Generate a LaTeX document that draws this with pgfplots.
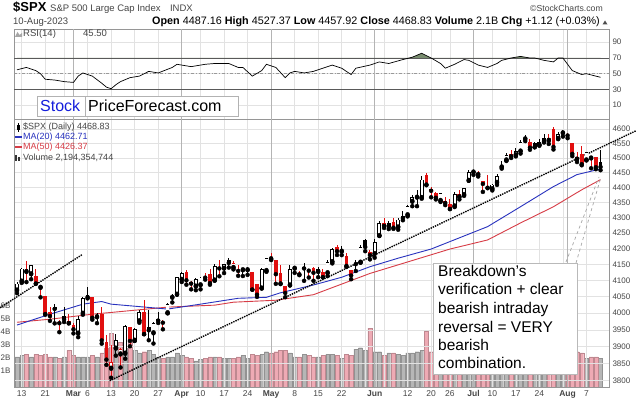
\documentclass[border=0pt]{standalone}
\usepackage{pgfplots}
\pgfplotsset{compat=1.18}
\usepackage{pgfplotstable}
\usepackage{fontspec}
\setmainfont{Liberation Sans}
\definecolor{cred}{RGB}{225,15,15}
\definecolor{mablue}{RGB}{40,50,190}
\definecolor{mared}{RGB}{215,60,70}
\definecolor{vpink}{RGB}{238,170,180}
\definecolor{vgray}{RGB}{182,182,182}
\definecolor{gridc}{RGB}{226,226,226}
\definecolor{gridm}{RGB}{180,180,180}
\definecolor{framec}{RGB}{150,150,150}
\definecolor{lbl}{RGB}{70,70,70}
\definecolor{stockblue}{RGB}{20,30,220}
\definecolor{obfill}{RGB}{120,140,110}
\newcommand\fs[1]{\fontsize{#1}{#1}\selectfont}

\pgfplotstableread{
i o h l c t v
0 4068.92 4094.36 4060.79 4090.46 1 2.3
1 4096.62 4138.90 4092.67 4137.29 1 2.4
2 4126.70 4159.77 4095.01 4136.13 3 2.5
3 4119.50 4148.11 4103.98 4147.60 1 2.3
4 4114.75 4136.54 4089.49 4090.41 4 2.5
5 4077.39 4081.51 4047.95 4079.09 3 2.4
6 4052.35 4052.35 3995.19 3997.34 4 2.5
7 4001.83 4017.37 3976.90 3991.05 4 2.3
8 4018.60 4028.30 3969.19 4012.32 2 2.3
9 3973.24 3978.25 3943.08 3970.04 4 2.2
10 3992.36 4018.05 3973.55 3982.24 2 2.3
11 3977.19 3997.50 3968.98 3970.15 4 2.8
12 3963.34 3971.73 3939.05 3951.39 4 2.4
13 3938.68 3990.84 3928.16 3981.35 1 2.3
14 3998.02 4048.29 3995.17 4045.64 1 2.3
15 4055.15 4078.49 4044.61 4048.42 2 2.3
16 4048.26 4050.00 3980.31 3986.37 4 2.4
17 3987.55 4000.41 3969.76 3992.01 1 2.3
18 3998.66 4017.81 3908.70 3918.32 4 2.6
19 3912.77 3934.05 3846.32 3861.59 4 3.0
20 3835.12 3905.05 3808.86 3855.76 3 4.1
21 3894.01 3937.29 3873.63 3919.29 1 3.2
22 3876.74 3894.26 3838.24 3891.93 3 3.4
23 3878.93 3964.46 3864.11 3960.28 1 3.0
24 3958.69 3958.91 3901.27 3916.64 4 3.6
25 3917.47 3956.62 3916.89 3951.57 1 2.8
26 3975.89 4009.08 3971.19 4002.87 1 2.6
27 4002.04 4039.49 3936.17 3936.97 4 2.7
28 3959.21 4007.66 3919.05 3948.72 2 2.8
29 3939.21 3972.74 3909.16 3970.99 1 2.5
30 3982.93 4003.83 3970.49 3977.53 2 2.3
31 3974.13 3979.20 3951.53 3971.27 4 2.2
32 3999.53 4030.59 3999.53 4027.81 1 2.3
33 4046.74 4057.85 4032.10 4050.83 1 2.3
34 4056.18 4110.75 4056.18 4109.31 1 2.6
35 4102.20 4127.66 4095.31 4124.51 1 2.4
36 4128.03 4133.13 4086.87 4100.60 4 2.3
37 4094.50 4099.69 4072.56 4090.38 4 2.2
38 4081.15 4107.32 4069.84 4105.02 1 2.0
39 4085.20 4109.50 4072.55 4109.11 1 2.1
40 4110.29 4124.26 4102.61 4108.94 4 2.2
41 4121.72 4134.37 4086.94 4091.95 4 2.3
42 4100.04 4150.26 4099.40 4146.22 1 2.3
43 4140.11 4163.19 4113.20 4137.64 4 2.3
44 4137.17 4151.72 4123.18 4151.32 1 2.2
45 4164.26 4169.48 4140.36 4154.87 2 2.2
46 4139.33 4162.57 4134.49 4154.52 3 2.2
47 4130.48 4148.57 4114.57 4129.79 4 2.3
48 4132.14 4138.02 4113.86 4133.52 1 2.4
49 4132.07 4142.41 4117.77 4137.04 1 2.2
50 4126.43 4126.43 4071.38 4071.63 4 2.5
51 4087.78 4089.67 4049.35 4055.99 4 2.4
52 4075.29 4138.24 4075.29 4135.35 1 2.5
53 4129.63 4170.06 4127.18 4169.48 1 2.7
54 4166.79 4186.92 4164.12 4167.87 3 2.6
55 4164.10 4164.10 4089.72 4119.58 4 2.7
56 4122.25 4148.30 4088.86 4090.75 4 2.8
57 4082.61 4082.61 4048.28 4061.22 4 2.8
58 4084.73 4147.02 4084.73 4136.25 1 2.6
59 4136.98 4142.30 4123.81 4138.12 1 2.3
60 4124.25 4130.35 4116.65 4119.17 4 2.3
61 4143.74 4154.28 4098.92 4137.64 2 2.5
62 4132.24 4132.80 4109.29 4130.62 4 2.4
63 4138.54 4143.74 4099.12 4124.08 4 2.3
64 4126.65 4141.25 4110.27 4136.28 1 2.3
65 4127.95 4135.54 4109.86 4109.90 4 2.4
66 4122.85 4164.67 4113.62 4158.77 1 2.5
67 4157.68 4202.20 4153.50 4198.05 1 2.5
68 4204.15 4212.91 4180.20 4191.98 4 2.4
69 4190.78 4209.22 4179.68 4192.63 1 2.2
70 4176.80 4185.68 4142.54 4145.58 4 2.5
71 4132.96 4132.96 4103.98 4115.24 4 2.4
72 4155.71 4165.74 4129.73 4151.28 2 2.9
73 4156.16 4212.87 4156.16 4205.45 1 3.0
74 4226.71 4231.10 4192.18 4205.52 2 2.8
75 4190.74 4195.44 4166.15 4179.83 4 4.5
76 4183.03 4232.43 4171.64 4221.02 1 2.7
77 4241.01 4290.67 4241.01 4282.37 1 2.7
78 4282.99 4299.28 4266.82 4273.79 4 2.4
79 4271.34 4288.33 4263.09 4283.85 1 2.6
80 4285.47 4299.19 4263.96 4267.52 4 2.6
81 4268.69 4298.01 4261.07 4293.93 1 2.5
82 4304.88 4322.62 4291.70 4298.86 2 2.4
83 4308.32 4340.13 4304.37 4338.93 1 2.6
84 4352.61 4375.37 4337.66 4369.01 1 2.6
85 4366.29 4391.82 4337.85 4372.59 1 2.7
86 4365.33 4439.20 4362.60 4425.84 1 2.8
87 4440.95 4448.47 4407.44 4409.59 4 4.3
88 4396.11 4400.15 4367.19 4388.71 4 2.7
89 4380.01 4386.22 4360.14 4365.69 4 2.6
90 4355.40 4382.25 4351.82 4381.89 1 2.5
91 4354.17 4366.55 4341.34 4348.33 4 2.6
92 4344.84 4362.06 4328.08 4328.82 4 2.5
93 4337.36 4384.42 4335.00 4378.41 1 2.5
94 4367.48 4390.35 4360.22 4376.86 3 2.4
95 4374.94 4398.39 4371.97 4396.44 1 2.3
96 4422.44 4458.48 4422.44 4450.38 1 2.5
97 4450.48 4456.46 4442.29 4455.59 1 1.8
98 4442.04 4454.06 4436.61 4446.82 3 2.3
99 4422.62 4422.62 4385.05 4411.59 4 2.6
100 4404.54 4440.39 4397.40 4398.95 4 2.4
101 4394.23 4412.60 4389.92 4409.53 1 2.5
102 4415.55 4443.64 4408.46 4439.26 1 2.4
103 4467.69 4488.34 4463.23 4472.16 1 2.5
104 4491.50 4517.38 4489.36 4510.04 1 2.5
105 4514.61 4527.76 4499.56 4505.42 4 2.5
106 4508.86 4532.85 4504.90 4522.79 1 2.4
107 4521.78 4562.30 4514.59 4554.98 1 2.6
108 4563.87 4578.43 4557.48 4565.72 1 2.6
109 4554.38 4564.74 4527.56 4534.87 4 2.7
110 4550.16 4555.00 4535.79 4536.34 2 3.3
111 4543.39 4563.41 4541.29 4554.64 1 2.5
112 4555.19 4580.62 4552.42 4567.46 1 2.5
113 4558.96 4582.47 4547.58 4566.75 3 2.7
114 4598.26 4607.07 4528.56 4537.41 4 2.9
115 4565.75 4590.16 4564.01 4582.23 1 2.7
116 4584.82 4594.22 4573.14 4588.96 1 2.6
117 4578.83 4584.62 4567.53 4576.73 4 2.6
118 4550.93 4550.93 4505.75 4513.39 4 2.8
119 4494.27 4519.49 4485.54 4501.89 3 2.7
120 4513.96 4540.34 4474.55 4478.03 4 2.6
121 4491.58 4519.84 4491.15 4518.44 1 2.2
122 4498.03 4503.31 4464.39 4499.38 3 2.3
123 4501.57 4502.44 4461.33 4467.71 4 2.3
124 4487.16 4527.37 4457.92 4468.83 2 2.2
}\ohlc

\pgfplotstableread{
i r
0 55
2 58
4 54
5 50
6 43
8 42
10 40
12 39
13 47
14 51
16 47
18 38
19 33
20 31
21 36
22 40
24 45
26 47
27 50
28 53
30 51
33 58
34 62
37 59
40 62
42 63
45 63
47 58
48 58
50 47
52 54
53 62
55 58
57 45
58 51
59 53
61 51
63 53
65 57
67 61
69 57
71 49
72 57
75 61
77 65
79 63
82 68
84 71
86 76
88 70
90 63
91 57
93 62
95 68
96 67
98 61
100 58
102 63
103 67
105 70
107 72
109 70
110 70
112 67
114 65
115 70
116 70
118 54
120 49
121 50
123 47
124 45.5
}\rsi

\pgfplotstableread{
i m
0 3964
7 3997
14 4027
18 4035
20 4027
32 4012
39 4027
47 4045
53 4048
56 4062
63 4086
69 4110
75 4143
81 4170
88 4199
100 4271
107 4336
114 4403
119 4443
124 4462
}\mablue

\pgfplotstableread{
i m
0 3973
7 3982
16 3997
21 4003
32 4018
42 4024
46 4033
55 4039
63 4056
75 4122
92 4199
100 4228
107 4283
114 4336
120 4392
124 4426
}\mared

\pgfplotsset{
  chartx/.style={
    scale only axis, anchor=south west, width=595pt,
    xmin=-0.64, xmax=125.8,
    xtick={1,6,10,15,20,25,30,39,44,49,59,64,69,74,78,83,88,92,101,106,111,116,121},
    extra x ticks={12,35,54,76,97,117},
    xmajorgrids, major grid style={gridc, line width=0.5pt},
    extra x tick style={grid=major, major grid style={gridm, line width=0.6pt}},
    tick style={draw=none}, major tick length=0pt,
    axis line style={framec, line width=0.6pt},
  },
  wick/.style={only marks, mark=none, forget plot,
    error bars/.cd, y dir=plus, y explicit, error mark=none,
    error bar style={line width=0.9pt, draw=#1}},
  body/.style={only marks, mark=none, forget plot,
    error bars/.cd, y dir=plus, y explicit, error mark=none,
    error bar style={line width=3.8pt, draw=#1}},
  inner/.style={only marks, mark=none, forget plot,
    error bars/.cd, y dir=plus, y explicit, error mark=none,
    error bar style={line width=2.2pt, draw=white}},
}

\begin{document}
\begin{tikzpicture}
\useasboundingbox (0pt,0pt) rectangle (640pt,402pt);
\fill[white] (0pt,0pt) rectangle (640pt,402pt);

% ---------------- RSI panel
\begin{axis}[chartx, at={(14pt,283pt)}, height=90pt,
  ymin=-7.46, ymax=106.8,
  xticklabels={,,,,,,,,,,,,,,,,,,,,,,},
  extra x tick labels={,,,,,},
  xticklabel style={opacity=0},
  ytick={10,30,50,70,90}, yticklabels={10,30,50,70,90},
  yticklabel pos=right, ymajorgrids,
  yticklabel style={font=\fs{8}, text=lbl},
]
\addplot[gray!70!black, line width=0.7pt] coordinates {(-0.64,70) (125.8,70)};
\addplot[gray!70!black, line width=0.7pt] coordinates {(-0.64,30) (125.8,30)};
\addplot[gray!80, line width=0.7pt, dash dot] coordinates {(-0.64,50) (125.8,50)};
\end{axis}
% overbought fill (RSI above 70)
\begin{axis}[scale only axis, anchor=south west, width=595pt, at={(14pt,344pt)}, height=29pt,
  xmin=-0.64, xmax=125.8, ymin=70, ymax=106.8, axis lines=none]
\addplot[fill=obfill, draw=none] table[x=i,y=r]{\rsi} \closedcycle;
\end{axis}
\begin{axis}[scale only axis, anchor=south west, width=595pt, at={(14pt,283pt)}, height=90pt,
  xmin=-0.64, xmax=125.8, ymin=-7.46, ymax=106.8, axis lines=none]
\addplot[black, line width=0.7pt] table[x=i,y=r]{\rsi};
\end{axis}

% ---------------- Volume (overlay)
\begin{axis}[scale only axis, anchor=south west, width=595pt, at={(14pt,15pt)}, height=268pt,
  xmin=-0.64, xmax=125.8, ymin=0, ymax=20.46,
  xtick=\empty, ytick={1,2,3,4,5,6}, yticklabels={1B,2B,3B,4B,5B,6B},
  yticklabel style={font=\fs{8}, text=lbl, yshift=3pt},
  tick style={draw=none}, major tick length=0pt, axis line style={draw=none},
]
\addplot[ybar, bar width=3.9pt, bar shift=0pt, fill=vgray, draw=vgray!80!black, line width=0.2pt,
  restrict expr to domain={\thisrow{t}}{1:2}] table[x=i,y=v]{\ohlc};
\addplot[ybar, bar width=3.9pt, bar shift=0pt, fill=vpink, draw=vpink!80!black, line width=0.2pt,
  restrict expr to domain={\thisrow{t}}{3:4}] table[x=i,y=v]{\ohlc};
\end{axis}

% ---------------- Price panel
\begin{axis}[chartx, at={(14pt,15pt)}, height=268pt,
  ymode=log, ymin=3782.8, ymax=4635.0, clip=false,
  ytick={3800,3850,3900,3950,4000,4050,4100,4150,4200,4250,4300,4350,4400,4450,4500,4550,4600},
  yticklabels={3800,3850,3900,3950,4000,4050,4100,4150,4200,4250,4300,4350,4400,4450,4500,4550,4600},
  minor y tick num=0, ymajorgrids, yticklabel pos=right,
  yticklabel style={font=\fs{8}, text=lbl},
  xticklabels={13,21,,6,13,20,27,10,17,24,8,15,22,,,12,20,26,10,17,24,,7},
  extra x tick labels={\textbf{Mar},\textbf{Apr},\textbf{May},\textbf{Jun},\textbf{Jul},\textbf{Aug}},
  xticklabel style={font=\fs{8.5}, text=lbl},
]
\addplot[mared, line width=0.9pt] table[x=i,y=m]{\mared};
\addplot[mablue, line width=0.9pt] table[x=i,y=m]{\mablue};
\addplot[black, line width=1.4pt, densely dotted] coordinates {(19.7,3800) (131.5,4593)};
\addplot[black, line width=1.4pt, densely dotted] coordinates {(-3.6,4016) (13.8,4181)};
\addplot[wick=black] table[x=i, y=l, y error expr=\thisrow{h}-\thisrow{l}, restrict expr to domain={\thisrow{t}}{1:2}]{\ohlc};
\addplot[wick=cred] table[x=i, y=l, y error expr=\thisrow{h}-\thisrow{l}, restrict expr to domain={\thisrow{t}}{3:4}]{\ohlc};
\addplot[body=black] table[x=i, y expr={min(\thisrow{o},\thisrow{c})}, y error expr={max(abs(\thisrow{c}-\thisrow{o}),3)}, restrict expr to domain={\thisrow{t}}{1:2}]{\ohlc};
\addplot[body=cred] table[x=i, y expr={min(\thisrow{o},\thisrow{c})}, y error expr={max(abs(\thisrow{c}-\thisrow{o}),3)}, restrict expr to domain={\thisrow{t}}{3:4}]{\ohlc};
\addplot[inner] table[x=i, y expr={min(\thisrow{o},\thisrow{c})+2.7}, y error expr={max(abs(\thisrow{c}-\thisrow{o})-5.4,0)}, restrict expr to domain={\thisrow{t}}{1:1}]{\ohlc};
\addplot[inner] table[x=i, y expr={min(\thisrow{o},\thisrow{c})+2.7}, y error expr={max(abs(\thisrow{c}-\thisrow{o})-5.4,0)}, restrict expr to domain={\thisrow{t}}{3:3}]{\ohlc};
\end{axis}

% ---------------- Header
\node[anchor=base west, inner sep=0pt] at (13pt,390pt) {\fs{13}\bfseries \$SPX};
\node[anchor=base west, inner sep=0pt, text=lbl] at (50pt,390pt) {\fs{9.5}S\&P 500 Large Cap Index\quad INDX};
\node[anchor=base east, inner sep=0pt, text=lbl] at (603pt,390pt) {\fs{8.7}©StockCharts.com};
\node[anchor=base west, inner sep=0pt, text=lbl] at (13pt,377pt) {\fs{9.5}10-Aug-2023};
\node[anchor=base east, inner sep=0pt] at (600pt,377pt) {\fs{10.8}\textbf{Open} 4487.16 \textbf{High} 4527.37 \textbf{Low} 4457.92 \textbf{Close} 4468.83 \textbf{Volume} 2.1B \textbf{Chg} +1.12 (+0.03\%)};
\fill[black!70] (602.5pt,377.5pt) -- (607.5pt,377.5pt) -- (605pt,381.5pt) -- cycle;

% RSI label
\fill[gray!70] (15pt,365pt) -- (17.5pt,370pt) -- (19.5pt,367pt) -- (22pt,369pt) -- (22pt,365pt) -- cycle;
\node[anchor=base west, inner sep=0pt, text=lbl] at (23pt,365pt) {\fs{9.5}RSI(14)};
\node[anchor=base west, inner sep=0pt, text=lbl] at (83pt,365pt) {\fs{9.5}45.50};

% Price legend
\draw[black, line width=0.6pt] (18.5pt,270pt) -- (18.5pt,279pt);
\fill[black] (17pt,272pt) rectangle (20pt,277pt);
\node[anchor=base west, inner sep=0pt, text=lbl] at (23pt,272pt) {\fs{9}\$SPX (Daily) 4468.83};
\draw[mablue, line width=1.2pt] (15pt,265pt) -- (22pt,265pt);
\node[anchor=base west, inner sep=0pt, text=mablue] at (23pt,262pt) {\fs{9}MA(20) 4462.71};
\draw[mared, line width=1.2pt] (15pt,255pt) -- (22pt,255pt);
\node[anchor=base west, inner sep=0pt, text=mared] at (23pt,252pt) {\fs{9}MA(50) 4426.37};
\fill[black!80] (15pt,241pt) rectangle (17pt,247pt);
\fill[black!80] (18pt,241pt) rectangle (20pt,245pt);
\node[anchor=base west, inner sep=0pt, text=lbl] at (23pt,241pt) {\fs{9}Volume 2,194,354,744};

% StockPriceForecast box
\draw[gray!60, fill=white, line width=0.6pt] (37pt,286pt) rectangle (238pt,306pt);
\draw[gray!60, line width=0.6pt] (85pt,286pt) -- (85pt,306pt);
\node[anchor=base west, inner sep=0pt, text=stockblue] at (40pt,290pt) {\fs{16}Stock};
\node[anchor=base west, inner sep=0pt] at (88pt,290pt) {\fs{16}PriceForecast.com};

% Annotation
\draw[gray!70, dashed, line width=0.7pt] (566pt,140pt) -- (599pt,225pt);
\draw[gray!70, dashed, line width=0.7pt] (576pt,139pt) -- (601pt,225pt);
\draw[gray!55, fill=white, line width=0.6pt] (433pt,28pt) rectangle (577pt,139pt);
\begin{scope}[every node/.style={anchor=base west, inner sep=0pt}]
\node at (438pt,125pt) {\fs{15.5}Breakdown's};
\node at (438pt,107pt) {\fs{15.5}verification + clear};
\node at (438pt,88.5pt) {\fs{15.5}bearish intraday};
\node at (438pt,70pt) {\fs{15.5}reversal = VERY};
\node at (438pt,52pt) {\fs{15.5}bearish};
\node at (438pt,34pt) {\fs{15.5}combination.};
\end{scope}
\end{tikzpicture}
\end{document}
